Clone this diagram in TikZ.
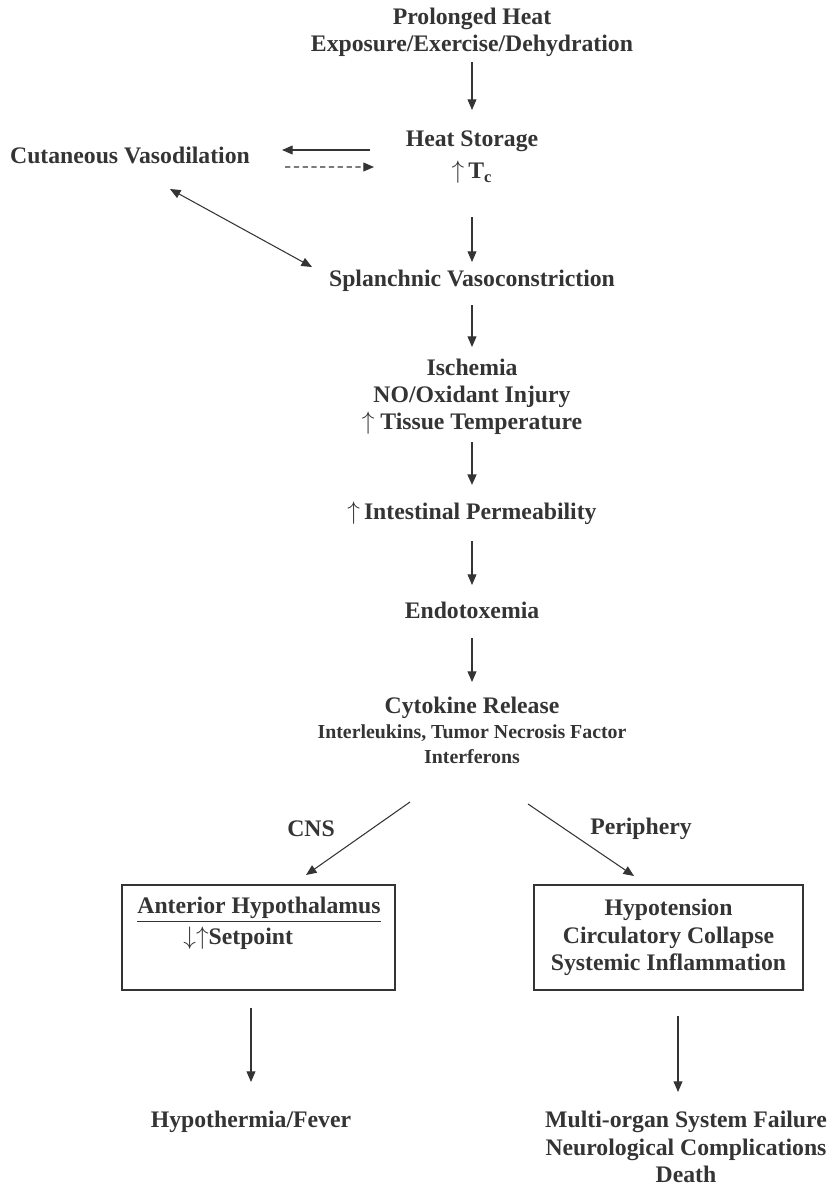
\documentclass[tikz,border=0pt]{standalone}
\usepackage{fontspec}
\setmainfont{Liberation Serif}
\usepackage{xcolor}
\usepackage{tikz}
\usetikzlibrary{arrows.meta, calc}
\definecolor{ink}{RGB}{52, 52, 52}
\newcommand{\mainsz}{\fontsize{13.5}{15.5}\selectfont}
\newcommand{\subsz}{\fontsize{11.3}{13.5}\selectfont}
\tikzstyle{stage} = [align=center, inner sep=0pt, text=ink, font=\mainsz\bfseries]
\tikzstyle{effectbox} = [rectangle, draw=ink, line width=0.8pt, align=center, inner sep=0pt, text=ink, font=\mainsz\bfseries]
\tikzstyle{arrow} = [draw=ink, line width=0.6pt, -{Triangle[length=6pt,width=5pt]}]

\begin{document}
\begin{tikzpicture}
    \useasboundingbox (0, 0) rectangle (16.68, -23.84);

    % Main chain
    \node[stage] (heatsrc) at (9.44, -0.64) {Prolonged Heat\\Exposure/Exercise/Dehydration};
    \node[stage] (heatstore) at (9.44, -3.14) {Heat Storage\\[3pt]$\big\uparrow$\,T\textsubscript{c}};
    \node[stage] (cutvaso) at (2.60, -3.10) {Cutaneous Vasodilation};
    \node[stage] (splanch) at (9.44, -5.62) {Splanchnic Vasoconstriction};
    \node[stage] (ischem) at (9.44, -7.94) {Ischemia\\NO/Oxidant Injury\\$\uparrow$ Tissue Temperature};
    \node[stage] (intest) at (9.44, -10.26) {$\uparrow$\,Intestinal Permeability};
    \node[stage] (endotox) at (9.44, -12.20) {Endotoxemia};
    \node[stage] (cytokine) at (9.44, -14.60) {Cytokine Release\\[-1pt]{\subsz Interleukins, Tumor Necrosis Factor}\\[-1.5pt]{\subsz Interferons}};

    % Branch labels
    \node[stage] (cnslbl) at (6.22, -16.58) {CNS};
    \node[stage] (perilbl) at (12.82, -16.58) {Periphery};

    % Boxes
    \node[effectbox, minimum width=5.46cm, minimum height=2.10cm] (ahbox) at (5.17, -18.75) {};
    \node[stage] (ahtitle) at (5.18, -18.20) {\underline{Anterior Hypothalamus}};
    \node[stage, anchor=west] (setpt) at (3.66, -18.76) {$\downarrow\uparrow$Setpoint};
    \node[effectbox, minimum width=5.38cm, minimum height=2.10cm] (rbox) at (13.37, -18.75) {Hypotension\\Circulatory Collapse\\Systemic Inflammation};

    % Outcomes
    \node[stage] (hypo) at (5.02, -22.44) {Hypothermia/Fever};
    \node[stage] (outcome) at (13.72, -22.94) {Multi-organ System Failure\\Neurological Complications\\Death};

    % Connectors
    \draw[arrow, shorten <=0.6cm, shorten >=0.94cm] (heatsrc.center) -- (heatstore.center);
    \draw[arrow] ($(heatstore)+(-2.04, 0.14)$) -- ($(cutvaso)+(3.04, 0.10)$);
    \draw[arrow, dash pattern=on 3pt off 2pt] ($(cutvaso)+(3.10, -0.24)$) -- ($(heatstore)+(-1.96, -0.20)$);
    \draw[arrow, {Triangle[length=6pt,width=5pt]}-{Triangle[length=6pt,width=5pt]}] ($(cutvaso)+(0.80, -0.68)$) -- ($(splanch)+(-3.20, 0.28)$);
    \draw[arrow, shorten <=1.2cm, shorten >=0.38cm] (heatstore.center) -- (splanch.center);
    \draw[arrow, shorten <=0.48cm, shorten >=1.0cm] (splanch.center) -- (ischem.center);
    \draw[arrow, line width=1.1pt, shorten <=0.9cm, shorten >=0.56cm] (ischem.center) -- (intest.center);
    \draw[arrow, shorten <=0.56cm, shorten >=0.5cm] (intest.center) -- (endotox.center);
    \draw[arrow, shorten <=0.56cm, shorten >=0.96cm] (endotox.center) -- (cytokine.center);
    \draw[arrow] ($(cytokine)+(-1.24, -1.44)$) -- ($(ahbox)+(0.95, 1.25)$);
    \draw[arrow] ($(cytokine)+(1.12, -1.48)$) -- ($(rbox)+(-0.69, 1.23)$);
    \draw[arrow, shorten <=0.34cm, shorten >=0.8cm] (ahbox.south -| hypo.center) -- (hypo.center);
    \draw[arrow, shorten <=0.5cm, shorten >=1.1cm] ([xshift=0.19cm]rbox.south) -- ([xshift=0.19cm]rbox.south |- outcome.center);
\end{tikzpicture}
\end{document}
